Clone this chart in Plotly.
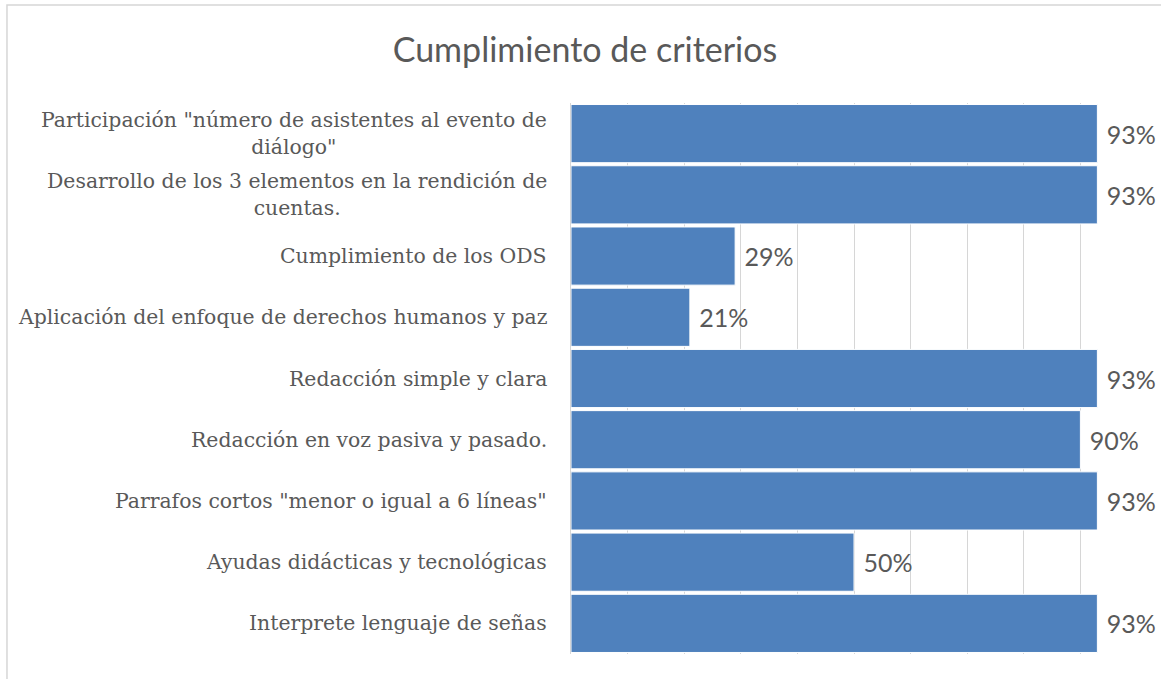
import plotly.graph_objects as go

title = "Cumplimiento de criterios"
categories = [
    'Participación "número de asistentes al evento de<br>diálogo"',
    'Desarrollo de los 3 elementos en la rendición de<br>cuentas.',
    'Cumplimiento de los ODS',
    'Aplicación del enfoque de derechos humanos y paz',
    'Redacción simple y clara',
    'Redacción en voz pasiva y pasado.',
    'Parrafos cortos "menor o igual a 6 líneas"',
    'Ayudas didácticas y tecnológicas',
    'Interprete lenguaje de señas',
]
values = [0.93, 0.93, 0.29, 0.21, 0.93, 0.90, 0.93, 0.50, 0.93]

GRAY_TEXT = "#595959"
GRID = "#d6d6d6"
BAR = "#4F81BD"

fig = go.Figure()
fig.add_trace(go.Bar(
    x=values,
    y=categories,
    orientation="h",
    marker=dict(color=BAR, line=dict(color="#ffffff", width=1)),
    texttemplate=" %{x:.0%}",
    textposition="outside",
    constraintext="none",
    cliponaxis=False,
    textfont=dict(family="Lato", size=25, color=GRAY_TEXT),
    hoverinfo="skip",
))

for c in categories:
    fig.add_annotation(
        x=0, xref="paper", y=c, yref="y",
        text=c, showarrow=False,
        xanchor="right", yanchor="middle", align="center",
        xshift=-22,
        font=dict(family="DejaVu Serif", size=20.4, color=GRAY_TEXT),
    )

# chart outer border
fig.add_shape(type="rect", xref="paper", yref="paper",
              x0=-0.9965, x1=1.3, y0=-0.3, y1=1.178,
              line=dict(color=GRID, width=1.5), layer="below")

fig.update_layout(
    width=1161, height=679,
    margin=dict(l=571, r=24, t=103, b=25),
    paper_bgcolor="white", plot_bgcolor="white",
    bargap=0.05,
    showlegend=False,
    title=dict(text=title, x=585/1161, xref="container", xanchor="center",
               y=1 - 50/679, yref="container", yanchor="middle",
               font=dict(family="Lato", size=34, color=GRAY_TEXT)),
    xaxis=dict(range=[0, 1], dtick=0.1, showgrid=True, gridcolor=GRID, gridwidth=1.3,
               showticklabels=False, zeroline=False, showline=False, fixedrange=True),
    yaxis=dict(categoryorder="array", categoryarray=categories, autorange="reversed",
               showticklabels=False, showline=True, linecolor=GRID, linewidth=1.3,
               showgrid=False, zeroline=False, ticks="", fixedrange=True),
)

fig.write_html("out.html")
